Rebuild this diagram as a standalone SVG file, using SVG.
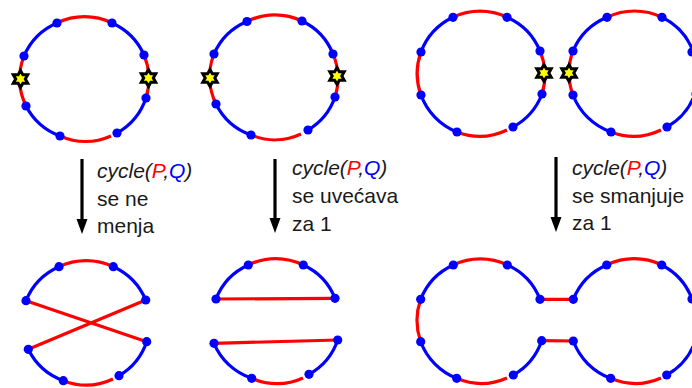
<svg xmlns="http://www.w3.org/2000/svg" width="692" height="388" viewBox="0 0 692 388">
<defs>
<style>
.r{fill:none;stroke:#ff0000;stroke-width:3.2;stroke-linecap:butt}
.b{fill:none;stroke:#0000ff;stroke-width:3.2;stroke-linecap:butt}
.d{fill:#0000ff}
.st{fill:#ffff00;stroke:#000;stroke-width:3;stroke-linejoin:miter}
.t{font-family:"Liberation Sans",Arial,sans-serif;font-size:21px;fill:#1a1a1a}
.ar{stroke:#000;stroke-width:3.2}
</style>
<polygon id="star" class="st" points="0,-8.3 2.4,-4.15 7.2,-4.15 4.8,0 7.2,4.15 2.4,4.15 0,8.3 -2.4,4.15 -7.2,4.15 -4.8,0 -7.2,-4.15 -2.4,-4.15"/>
<circle id="dot" class="d" r="4.6"/>
</defs>
<rect width="692" height="388" fill="#fff"/>

<g id="topA">
<path class="b" d="M24,56 A63,63 0 0 1 57,23"/>
<path class="r" d="M57,23 A63,63 0 0 1 112,23"/>
<path class="b" d="M112,23 A63,63 0 0 1 144,55"/>
<path class="r" d="M144,55 A63,63 0 0 1 146,98"/>
<path class="b" d="M146,98 A63,63 0 0 1 117,133"/>
<path class="r" d="M111,136 A63,63 0 0 1 60,136"/>
<path class="b" d="M60,136 A63,63 0 0 1 26,106"/>
<path class="r" d="M26,106 A63,63 0 0 1 24,56"/>
<use href="#dot" x="57" y="23"/><use href="#dot" x="112" y="23"/><use href="#dot" x="144" y="55"/><use href="#dot" x="146" y="98"/>
<use href="#dot" x="117" y="133"/><use href="#dot" x="60" y="136"/><use href="#dot" x="26" y="106"/><use href="#dot" x="24" y="56"/>
<use href="#star" x="20.5" y="79"/><use href="#star" x="148.5" y="78"/>
</g>

<g id="topB">
<path class="b" d="M214,54 A62,62 0 0 1 247,21.5"/>
<path class="r" d="M247,21.5 A62,62 0 0 1 302,21"/>
<path class="b" d="M302,21 A62,62 0 0 1 333,54"/>
<path class="r" d="M333,54 A62,62 0 0 1 335,97"/>
<path class="b" d="M335,97 A62,62 0 0 1 308,130"/>
<path class="r" d="M301,134 A62,62 0 0 1 251,135"/>
<path class="b" d="M251,135 A62,62 0 0 1 216,104"/>
<path class="r" d="M216,104 A62,62 0 0 1 214,54"/>
<use href="#dot" x="247" y="21.5"/><use href="#dot" x="302" y="21"/><use href="#dot" x="333" y="54"/><use href="#dot" x="335" y="97"/>
<use href="#dot" x="308" y="130"/><use href="#dot" x="251" y="135"/><use href="#dot" x="216" y="104"/><use href="#dot" x="214" y="54"/>
<use href="#star" x="210" y="78"/><use href="#star" x="337" y="76"/>
</g>

<g id="topC">
<path class="b" d="M421,52 A63,63 0 0 1 453,17.3"/>
<path class="r" d="M453,17.3 A63,63 0 0 1 507,17.3"/>
<path class="b" d="M507,17.3 A63,63 0 0 1 540,51"/>
<path class="r" d="M540,51 A63,63 0 0 1 542,94"/>
<path class="b" d="M542,94 A63,63 0 0 1 513,127"/>
<path class="r" d="M507,130 A63,63 0 0 1 457,132"/>
<path class="b" d="M457,132 A63,63 0 0 1 421,95"/>
<path class="r" d="M421,95 A63,63 0 0 1 421,52"/>
<use href="#dot" x="453" y="17.3"/><use href="#dot" x="507" y="17.3"/><use href="#dot" x="540" y="51"/><use href="#dot" x="542" y="94"/>
<use href="#dot" x="513" y="127"/><use href="#dot" x="457" y="132"/><use href="#dot" x="421" y="95"/><use href="#dot" x="421" y="52"/>
<use href="#star" x="544" y="73"/>
</g>

<g id="topD">
<path class="b" d="M573,51 A63,63 0 0 1 607,17.3"/>
<path class="r" d="M607,17.3 A63,63 0 0 1 662,17.3"/>
<path class="b" d="M662,17.3 A63,63 0 0 1 693,51"/>
<path class="r" d="M693,51 A63,63 0 0 1 695,94"/>
<path class="b" d="M695,94 A63,63 0 0 1 667,127"/>
<path class="r" d="M661,130 A63,63 0 0 1 611,132"/>
<path class="b" d="M611,132 A63,63 0 0 1 573,95"/>
<path class="r" d="M573,95 A63,63 0 0 1 573,51"/>
<use href="#dot" x="573" y="51"/><use href="#dot" x="607" y="17.3"/><use href="#dot" x="662" y="17.3"/><use href="#dot" x="692" y="52"/>
<use href="#dot" x="696" y="94"/><use href="#dot" x="667" y="127"/><use href="#dot" x="611" y="132"/><use href="#dot" x="573" y="95"/>
<use href="#star" x="569" y="73"/>
</g>

<g id="botA">
<path class="b" d="M26,300.7 A63,63 0 0 1 59,266.7"/>
<path class="r" d="M59,266.7 A63,63 0 0 1 113.3,266.7"/>
<path class="b" d="M113.3,266.7 A63,63 0 0 1 145.7,300"/>
<path class="r" d="M26,300.7 L146.7,341.7 M145.7,300 L28.3,349.3"/>
<path class="b" d="M146.7,341.7 A63,63 0 0 1 119,375.7"/>
<path class="r" d="M113,379 A63,63 0 0 1 63.3,380.7"/>
<path class="b" d="M63.3,380.7 A63,63 0 0 1 28.3,349.3"/>
<use href="#dot" x="59" y="266.7"/><use href="#dot" x="113.3" y="266.7"/><use href="#dot" x="145.7" y="300"/><use href="#dot" x="26" y="300.7"/>
<use href="#dot" x="146.7" y="341.7"/><use href="#dot" x="119" y="375.7"/><use href="#dot" x="63.3" y="380.7"/><use href="#dot" x="28.3" y="349.3"/>
</g>

<g id="botB">
<path class="b" d="M216,299 A62,62 0 0 1 248.3,265"/>
<path class="r" d="M248.3,265 A62,62 0 0 1 303.3,265"/>
<path class="b" d="M303.3,265 A62,62 0 0 1 335,298.3"/>
<path class="r" d="M216,299 L335,298.3 M214,343.3 L337.7,340"/>
<path class="b" d="M337.7,340 A62,62 0 0 1 309,374.3"/>
<path class="r" d="M303,378 A62,62 0 0 1 251.7,378.3"/>
<path class="b" d="M251.7,378.3 A62,62 0 0 1 214,343.3"/>
<use href="#dot" x="248.3" y="265"/><use href="#dot" x="303.3" y="265"/><use href="#dot" x="335" y="298.3"/><use href="#dot" x="216" y="299"/>
<use href="#dot" x="214" y="343.3"/><use href="#dot" x="337.7" y="340"/><use href="#dot" x="309" y="374.3"/><use href="#dot" x="251.7" y="378.3"/>
</g>

<g id="botC">
<path class="b" d="M420.7,299.3 A63,63 0 0 1 453.3,265"/>
<path class="r" d="M453.3,265 A63,63 0 0 1 507.3,265"/>
<path class="b" d="M507.3,265 A63,63 0 0 1 540,299.3"/>
<path class="r" d="M540,299.3 L573.3,299.3 M541.7,340.7 L573.3,341"/>
<path class="b" d="M541.7,340.7 A63,63 0 0 1 513.3,375"/>
<path class="r" d="M507,378 A63,63 0 0 1 456.7,378.3"/>
<path class="b" d="M456.7,378.3 A63,63 0 0 1 420.7,341.7"/>
<path class="r" d="M420.7,341.7 A63,63 0 0 1 420.7,299.3"/>
<path class="b" d="M573.3,299.3 A63,63 0 0 1 606.7,265"/>
<path class="r" d="M606.7,265 A63,63 0 0 1 661.7,265"/>
<path class="b" d="M661.7,265 A63,63 0 0 1 692,299"/>
<path class="r" d="M692,299 A63,63 0 0 1 695,342"/>
<path class="b" d="M695,342 A63,63 0 0 1 666.7,375"/>
<path class="r" d="M661,378 A63,63 0 0 1 610.7,378.3"/>
<path class="b" d="M610.7,378.3 A63,63 0 0 1 573.3,341"/>
<use href="#dot" x="453.3" y="265"/><use href="#dot" x="507.3" y="265"/><use href="#dot" x="540" y="299.3"/><use href="#dot" x="420.7" y="299.3"/>
<use href="#dot" x="420.7" y="341.7"/><use href="#dot" x="541.7" y="340.7"/><use href="#dot" x="513.3" y="375"/><use href="#dot" x="456.7" y="378.3"/>
<use href="#dot" x="573.3" y="299.3"/><use href="#dot" x="606.7" y="265"/><use href="#dot" x="661.7" y="265"/><use href="#dot" x="692" y="299"/>
<use href="#dot" x="573.3" y="341"/><use href="#dot" x="610.7" y="378.3"/><use href="#dot" x="666.7" y="375"/>
</g>

<g id="connectors">
<line class="ar" x1="82" y1="159" x2="82" y2="222"/><polygon points="76.5,219 87.5,219 82,234"/>
<line class="ar" x1="275" y1="159" x2="275" y2="221"/><polygon points="269.5,218 280.5,218 275,233"/>
<line class="ar" x1="556" y1="157" x2="556" y2="220"/><polygon points="550.5,217 561.5,217 556,232"/>
</g>

<g id="label1" class="t">
<text x="97" y="178"><tspan font-style="italic">cycle(<tspan fill="#ff0000">P</tspan>,<tspan fill="#0000ff">Q</tspan>)</tspan></text>
<text x="97" y="206">se ne</text>
<text x="97" y="233">menja</text>
</g>
<g id="label2" class="t">
<text x="292" y="175"><tspan font-style="italic">cycle(<tspan fill="#ff0000">P</tspan>,<tspan fill="#0000ff">Q</tspan>)</tspan></text>
<text x="292" y="203">se uvećava</text>
<text x="292" y="231">za 1</text>
</g>
<g id="label3" class="t">
<text x="572" y="175"><tspan font-style="italic">cycle(<tspan fill="#ff0000">P</tspan>,<tspan fill="#0000ff">Q</tspan>)</tspan></text>
<text x="572" y="203">se smanjuje</text>
<text x="572" y="230">za 1</text>
</g>
</svg>
